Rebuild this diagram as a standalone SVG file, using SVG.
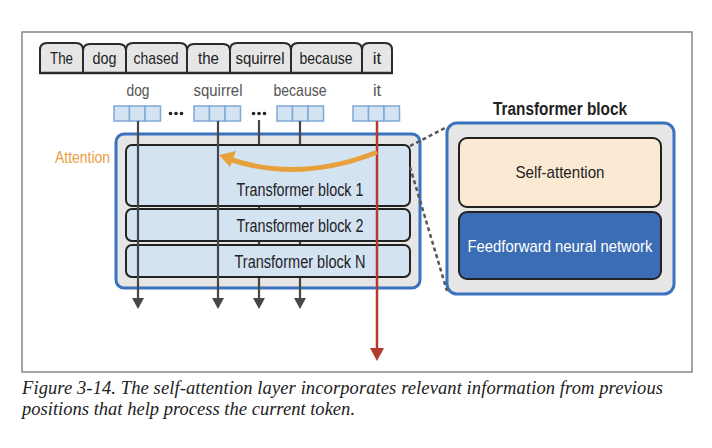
<svg xmlns="http://www.w3.org/2000/svg" width="712" height="448" viewBox="0 0 712 448">
<defs>
<style>
.sans{font-family:"Liberation Sans",Arial,sans-serif}
.tab{fill:#e6e6e6;stroke:#2b2b2b;stroke-width:2}
.tabtxt{font-size:17px;fill:#222;text-anchor:middle}
.lbl{font-size:16.5px;fill:#555;text-anchor:middle}
.cell{fill:#d4e3f2;stroke:#7fa8d8;stroke-width:1.5}
.dot{fill:#222}
.outer{fill:#e6e6e6;stroke:#3b72bd;stroke-width:3}
.blk{fill:#d4e3f2;stroke:#222;stroke-width:2}
.blktxt{font-size:17.5px;fill:#222;text-anchor:middle}
.gline{stroke:#474747;stroke-width:2.2;fill:none}
.rline{stroke:#b03a2e;stroke-width:2.5;fill:none}
.dash{stroke:#555;stroke-width:2.5;stroke-dasharray:4 3;fill:none}
.cap{font-family:"Liberation Serif","Times New Roman",serif;font-style:italic;font-size:18.5px;fill:#222}
</style>
</defs>
<rect x="22" y="32" width="670" height="340" fill="none" stroke="#888" stroke-width="1.5"/>

<g id="tokens" class="sans">
<path class="tab" d="M40,73 V50 Q40,43 47,43 H76 Q83,43 83,50 V73"/>
<path class="tab" d="M83,73 V51 Q83,44 90,44 H119 Q126,44 126,51 V73"/>
<path class="tab" d="M126,73 V50 Q126,43 133,43 H180 Q187,43 187,50 V73"/>
<path class="tab" d="M187,73 V51 Q187,44 194,44 H223 Q230,44 230,51 V73"/>
<path class="tab" d="M230,73 V50 Q230,43 237,43 H284 Q291,43 291,50 V73"/>
<path class="tab" d="M291,73 V50 Q291,43 298,43 H355 Q362,43 362,50 V73"/>
<path class="tab" d="M362,73 V50 Q362,43 369,43 H385 Q392,43 392,50 V73"/>
<line x1="39" y1="73" x2="393" y2="73" stroke="#2b2b2b" stroke-width="2.5"/>
<text class="tabtxt" x="61.5" y="64" textLength="23" lengthAdjust="spacingAndGlyphs">The</text>
<text class="tabtxt" x="104.5" y="64" textLength="24" lengthAdjust="spacingAndGlyphs">dog</text>
<text class="tabtxt" x="156" y="64" textLength="45" lengthAdjust="spacingAndGlyphs">chased</text>
<text class="tabtxt" x="208.5" y="64" textLength="21" lengthAdjust="spacingAndGlyphs">the</text>
<text class="tabtxt" x="260" y="64" textLength="49" lengthAdjust="spacingAndGlyphs">squirrel</text>
<text class="tabtxt" x="326" y="64" textLength="53" lengthAdjust="spacingAndGlyphs">because</text>
<text class="tabtxt" x="377" y="64">it</text>
</g>

<g id="vectors" class="sans">
<text class="lbl" x="138" y="96" textLength="23" lengthAdjust="spacingAndGlyphs">dog</text>
<text class="lbl" x="218" y="96" textLength="49" lengthAdjust="spacingAndGlyphs">squirrel</text>
<text class="lbl" x="300" y="96" textLength="53" lengthAdjust="spacingAndGlyphs">because</text>
<text class="lbl" x="377" y="96">it</text>
<rect class="cell" x="114" y="106" width="15.5" height="15"/><rect class="cell" x="129.5" y="106" width="15.5" height="15"/><rect class="cell" x="145" y="106" width="15.5" height="15"/>
<rect class="cell" x="194" y="106" width="15.5" height="15"/><rect class="cell" x="209.5" y="106" width="15.5" height="15"/><rect class="cell" x="225" y="106" width="15.5" height="15"/>
<rect class="cell" x="277" y="106" width="15.5" height="15"/><rect class="cell" x="292.5" y="106" width="15.5" height="15"/><rect class="cell" x="308" y="106" width="15.5" height="15"/>
<rect class="cell" x="353" y="106" width="15.5" height="15"/><rect class="cell" x="368.5" y="106" width="15.5" height="15"/><rect class="cell" x="384" y="106" width="15.5" height="15"/>
<circle class="dot" cx="170.5" cy="113.5" r="1.8"/><circle class="dot" cx="176" cy="113.5" r="1.8"/><circle class="dot" cx="181.5" cy="113.5" r="1.8"/>
<circle class="dot" cx="253.5" cy="113.5" r="1.8"/><circle class="dot" cx="259" cy="113.5" r="1.8"/><circle class="dot" cx="264.5" cy="113.5" r="1.8"/>
</g>

<g id="stack" class="sans">
<rect class="outer" x="116" y="134" width="304" height="154" rx="8"/>
</g>

<g id="connectors-back">
<line class="gline" x1="259" y1="120" x2="259" y2="298"/>
<line class="gline" x1="300" y1="121" x2="300" y2="298"/>
</g>

<g id="block1" class="sans">
<rect class="blk" x="126" y="145" width="284" height="61" rx="6"/>
<text class="blktxt" x="300" y="196" textLength="127" lengthAdjust="spacingAndGlyphs">Transformer block 1</text>
</g>
<g id="block2" class="sans">
<rect class="blk" x="126" y="209" width="284" height="32" rx="6"/>
<text class="blktxt" x="300" y="232" textLength="127" lengthAdjust="spacingAndGlyphs">Transformer block 2</text>
</g>
<g id="blockN" class="sans">
<rect class="blk" x="126" y="245" width="284" height="32" rx="6"/>
<text class="blktxt" x="300" y="268" textLength="131" lengthAdjust="spacingAndGlyphs">Transformer block N</text>
</g>

<g id="detail" class="sans">
<text x="560" y="115" font-size="18px" font-weight="bold" fill="#222" text-anchor="middle" textLength="134" lengthAdjust="spacingAndGlyphs">Transformer block</text>
<rect class="outer" x="447" y="123" width="227" height="171" rx="10"/>
<g id="self-attention">
<rect x="459" y="138" width="202" height="69" rx="8" fill="#fbe9d4" stroke="#222" stroke-width="2"/>
<text x="560" y="178" font-size="17px" fill="#222" text-anchor="middle" textLength="89" lengthAdjust="spacingAndGlyphs">Self-attention</text>
</g>
<g id="feedforward">
<rect x="459" y="212" width="202" height="67" rx="8" fill="#3b6db4" stroke="#222" stroke-width="2"/>
<text x="560" y="252" font-size="17px" fill="#fff" text-anchor="middle" textLength="185" lengthAdjust="spacingAndGlyphs">Feedforward neural network</text>
</g>
</g>

<g id="attention-label" class="sans">
<text x="110" y="163" font-size="16px" fill="#e8a03c" text-anchor="end" textLength="55" lengthAdjust="spacingAndGlyphs">Attention</text>
</g>

<g id="connectors">
<line class="gline" x1="138" y1="121" x2="138" y2="298"/>
<line class="gline" x1="218" y1="121" x2="218" y2="298"/>
<polygon points="132,298 144,298 138,309" fill="#474747"/>
<polygon points="212,298 224,298 218,309" fill="#474747"/>
<polygon points="253,298 265,298 259,309" fill="#474747"/>
<polygon points="294,298 306,298 300,309" fill="#474747"/>
<line class="rline" x1="377" y1="121" x2="377" y2="349"/>
<polygon points="370,348 384,348 377,361" fill="#b03a2e"/>
<path d="M375,153 Q300,182 232,160" stroke="#e8a03c" stroke-width="5" fill="none" stroke-linecap="round"/>
<polygon points="219,155 236,151 230,167" fill="#e8a03c"/>
<line class="dash" x1="410" y1="146" x2="447" y2="127"/>
<line class="dash" x1="410" y1="167" x2="447" y2="291"/>
</g>

<g id="caption">
<text class="cap" x="22" y="394" textLength="641" lengthAdjust="spacing">Figure 3-14. The self-attention layer incorporates relevant information from previous</text>
<text class="cap" x="22" y="415" textLength="333" lengthAdjust="spacing">positions that help process the current token.</text>
</g>
</svg>
